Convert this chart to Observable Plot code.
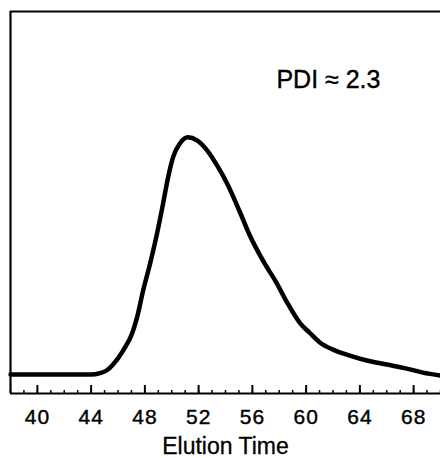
<!DOCTYPE html>
<html>
<head>
<meta charset="utf-8">
<script src="https://cdn.jsdelivr.net/npm/d3@7"></script>
<script src="https://cdn.jsdelivr.net/npm/@observablehq/plot@0.6"></script>
<style>
  html, body { margin: 0; padding: 0; background: #fff; }
  svg { display: block; }
</style>
</head>
<body>
<div id="chart"></div>
<script>
// Elution time (x) and detector signal (y, peak = 100)
const times  = [38, 44.0, 44.66, 45.18, 45.6, 46.38, 47.05, 47.42, 47.87, 48.39, 48.91, 49.36, 49.73, 50.10, 50.62, 51.2, 51.88, 52.63, 53.44, 54.11, 55.07, 55.82, 56.78, 57.82, 58.57, 59.53, 60.28, 61.02, 61.99, 63.25, 64.52, 66.0, 67.5, 68.69, 70];
const signal = [0, 0, 0.6, 1.8, 4.0, 10.1, 17.3, 24.1, 35.4, 46.8, 59.5, 72.2, 83.1, 91.6, 97.5, 100, 98.7, 94.5, 87.5, 80.6, 68.5, 58.5, 48.1, 38.4, 30.5, 21.8, 17.5, 13.5, 10.5, 8.0, 5.9, 4.2, 2.5, 0.8, -0.4];

const majorTicks = [40, 44, 48, 52, 56, 60, 64, 68];
const minorTicks = [38, 39, 40, 41, 42, 43, 44, 45, 46, 47, 48, 49, 50, 51, 52, 53, 54, 55, 56, 57, 58, 59, 60, 61, 62, 63, 64, 65, 66, 67, 68, 69, 70];

const xDomain = [38, 70];
const yDomain = [-8, 153];

const annotation = [{x: 61.66, y: 124, text: "PDI ≈ 2.3"}];

const data = times.map((t, i) => ({t, v: signal[i]}));

const chart = Plot.plot({
  width: 440,
  height: 458,
  marginLeft: 10,
  marginRight: 0,
  marginTop: 11,
  marginBottom: 65,
  style: {fontFamily: "'Liberation Sans', Arial, Helvetica, sans-serif", color: "#000", background: "#fff"},
  x: {domain: xDomain, label: "Elution Time", labelAnchor: "center", labelArrow: "none"},
  y: {domain: yDomain, axis: null},
  marks: [
    // frame: left, top, bottom
    Plot.ruleX([xDomain[0]], {stroke: "#000", strokeWidth: 2.2}),
    Plot.ruleY([yDomain[1]], {stroke: "#000", strokeWidth: 2.2}),
    Plot.ruleY([yDomain[0]], {stroke: "#000", strokeWidth: 2.2}),
    // inward ticks
    Plot.ruleX(minorTicks, {x: d => d, y1: yDomain[0], y2: yDomain[0], insetTop: -3, stroke: "#000", strokeWidth: 1.5}),
    Plot.ruleX(majorTicks, {x: d => d, y1: yDomain[0], y2: yDomain[0], insetTop: -8, stroke: "#000", strokeWidth: 2}),
    Plot.axisX({
      ticks: majorTicks,
      tickSize: 0,
      tickPadding: 16,
      fontSize: 21,
      label: "Elution Time",
      labelAnchor: "center",
      labelArrow: "none",
      labelOffset: 60
    }),
    Plot.line(data, {x: "t", y: "v", stroke: "#000", strokeWidth: 4.5, curve: "monotone-x", strokeLinejoin: "round", strokeLinecap: "round"}),
    Plot.text(annotation, {x: "x", y: "y", text: "text", fontSize: 25, fill: "#000", stroke: "#000", strokeWidth: 0.4})
  ]
});

// style axis text
chart.querySelectorAll("g[aria-label='x-axis tick label'] text").forEach(t => { t.style.letterSpacing = "1px"; t.style.stroke = "#000"; t.style.strokeWidth = "0.4px"; });
chart.querySelectorAll("g[aria-label='x-axis label'] text").forEach(t => { t.style.fontSize = "23px"; t.style.stroke = "#000"; t.style.strokeWidth = "0.3px"; });

document.getElementById("chart").appendChild(chart);
</script>
</body>
</html>
